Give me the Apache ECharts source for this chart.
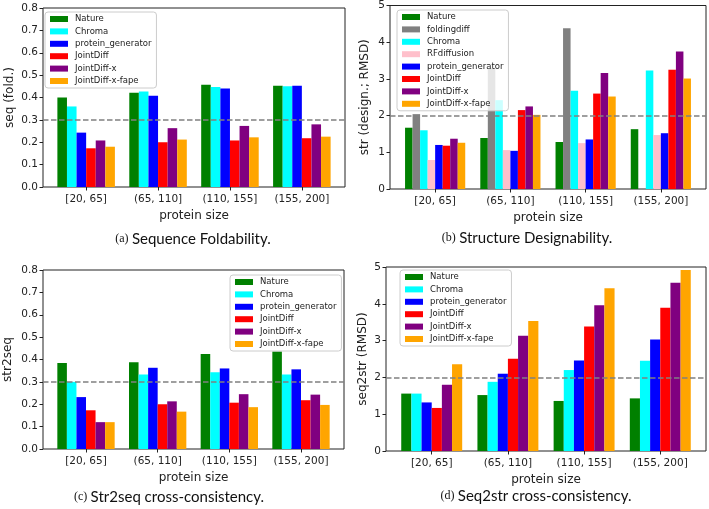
<!DOCTYPE html>
<html>
<head>
<meta charset="utf-8">
<script src="https://cdn.jsdelivr.net/npm/echarts@6/dist/echarts.min.js"></script>
<style>
html,body{margin:0;padding:0;background:#fff;}
#chart{width:709px;height:509px;}
</style>
</head>
<body>
<div id="chart"></div>
<script>
// ---- categories / tick labels ----
const categories = ['[20, 65]', '(65, 110]', '(110, 155]', '(155, 200]'];
const xName = 'protein size';

// ---- (a) Sequence Foldability: seq (fold.) ----
const aNature   = [0.400, 0.421, 0.457, 0.453];
const aChroma   = [0.360, 0.427, 0.447, 0.450];
const aPG       = [0.243, 0.408, 0.440, 0.453];
const aJD       = [0.173, 0.200, 0.208, 0.218];
const aJDx      = [0.208, 0.263, 0.273, 0.280];
const aJDxFape  = [0.180, 0.212, 0.222, 0.225];

// ---- (b) Structure Designability: str (design.; RMSD) ----
const bNature   = [1.67, 1.39, 1.28, 1.63];
const bFolding  = [2.04, 3.30, 4.38, null];
const bChroma   = [1.60, 2.42, 2.68, 3.23];
const bRF       = [0.79, 1.06, 1.25, 1.47];
const bPG       = [1.20, 1.04, 1.35, 1.52];
const bJD       = [1.18, 2.15, 2.60, 3.25];
const bJDx      = [1.37, 2.25, 3.16, 3.75];
const bJDxFape  = [1.26, 2.02, 2.52, 3.01];

// ---- (c) Str2seq cross-consistency ----
const cNature   = [0.384, 0.388, 0.425, 0.436];
const cChroma   = [0.300, 0.333, 0.343, 0.333];
const cPG       = [0.232, 0.363, 0.360, 0.356];
const cJD       = [0.173, 0.200, 0.207, 0.218];
const cJDx      = [0.120, 0.213, 0.245, 0.243];
const cJDxFape  = [0.120, 0.167, 0.187, 0.197];

// ---- (d) Seq2str cross-consistency: seq2str (RMSD) ----
const dNature   = [1.56, 1.52, 1.36, 1.43];
const dChroma   = [1.56, 1.88, 2.20, 2.45];
const dPG       = [1.32, 2.10, 2.46, 3.03];
const dJD       = [1.17, 2.51, 3.38, 3.89];
const dJDx      = [1.80, 3.13, 3.96, 4.57];
const dJDxFape  = [2.36, 3.53, 4.42, 4.92];

const thresholdSeq = 0.3;
const thresholdStr = 2.0;

const colors = {
  'Nature': '#008000',
  'foldingdiff': '#808080',
  'Chroma': '#00ffff',
  'RFdiffusion': '#ffc0cb',
  'protein_generator': '#0000ff',
  'JointDiff': '#ff0000',
  'JointDiff-x': '#800080',
  'JointDiff-x-fape': '#ffa500'
};

const panels = [
  {
    grid: {left: 43, top: 8, width: 302, height: 179},
    yName: 'seq (fold.)', yNameGap: 27, ymax: 0.8, yint: 0.1, dec: 1, thr: thresholdSeq,
    series: [['Nature', aNature], ['Chroma', aChroma], ['protein_generator', aPG],
             ['JointDiff', aJD], ['JointDiff-x', aJDx], ['JointDiff-x-fape', aJDxFape]],
    legend: {left: 45, top: 12},
    caption: {x: 193, y: 239, tag: '(a)', text: 'Sequence Foldability.'}
  },
  {
    grid: {left: 390, top: 5, width: 316, height: 184},
    yName: 'str (design.; RMSD)', yNameGap: 19, ymax: 5, yint: 1, dec: 0, thr: thresholdStr,
    series: [['Nature', bNature], ['foldingdiff', bFolding], ['Chroma', bChroma], ['RFdiffusion', bRF],
             ['protein_generator', bPG], ['JointDiff', bJD], ['JointDiff-x', bJDx], ['JointDiff-x-fape', bJDxFape]],
    legend: {left: 397, top: 10},
    caption: {x: 527, y: 238, tag: '(b)', text: 'Structure Designability.'}
  },
  {
    grid: {left: 43, top: 270, width: 301, height: 179},
    yName: 'str2seq', yNameGap: 29, ymax: 0.8, yint: 0.1, dec: 1, thr: thresholdSeq,
    series: [['Nature', cNature], ['Chroma', cChroma], ['protein_generator', cPG],
             ['JointDiff', cJD], ['JointDiff-x', cJDx], ['JointDiff-x-fape', cJDxFape]],
    legend: {left: 230, top: 275},
    caption: {x: 169, y: 497, tag: '(c)', text: 'Str2seq cross-consistency.'}
  },
  {
    grid: {left: 386, top: 267, width: 320, height: 184},
    yName: 'seq2str (RMSD)', yNameGap: 17, ymax: 5, yint: 1, dec: 0, thr: thresholdStr,
    series: [['Nature', dNature], ['Chroma', dChroma], ['protein_generator', dPG],
             ['JointDiff', dJD], ['JointDiff-x', dJDx], ['JointDiff-x-fape', dJDxFape]],
    legend: {left: 400, top: 270},
    caption: {x: 536, y: 496, tag: '(d)', text: 'Seq2str cross-consistency.'}
  }
];

const textColor = '#222';
const grids = [], xAxes = [], yAxes = [], series = [], legends = [], graphics = [];

panels.forEach((p, pi) => {
  grids.push(Object.assign({show: true, borderColor: '#222', borderWidth: 1, backgroundColor: 'transparent'}, p.grid));
  xAxes.push({
    type: 'value', gridIndex: pi, min: -0.6, max: 3.6, position: 'bottom',
    name: xName, nameLocation: 'middle', nameGap: 23,
    nameTextStyle: {fontFamily: 'DejaVu Sans', fontSize: 12, color: textColor},
    axisLine: {show: false, onZero: false},
    axisTick: {show: true, length: 3.5, customValues: [0, 1, 2, 3], lineStyle: {color: '#222'}},
    axisLabel: {show: true, customValues: [0, 1, 2, 3], margin: 7,
      fontFamily: 'DejaVu Sans', fontSize: 10.5, color: textColor,
      formatter: v => categories[Math.round(v)]},
    splitLine: {show: false}
  });
  yAxes.push({
    type: 'value', gridIndex: pi, min: 0, max: p.ymax, interval: p.yint, position: 'left',
    name: p.yName, nameLocation: 'middle', nameGap: p.yNameGap,
    nameTextStyle: {fontFamily: 'DejaVu Sans', fontSize: 12, color: textColor},
    axisLine: {show: false, onZero: false},
    axisTick: {show: true, length: 3.5, lineStyle: {color: '#222'}},
    axisLabel: {margin: 5, fontFamily: 'DejaVu Sans', fontSize: 10.5, color: textColor,
      formatter: v => v.toFixed(p.dec)},
    splitLine: {show: false}
  });
  const n = p.series.length;
  const unit = p.grid.width / 4.2;
  const bw = 0.8 * unit / n;
  p.series.forEach(([name, vals], si) => {
    const s = {
      type: 'bar', name: name, xAxisIndex: pi, yAxisIndex: pi,
      barWidth: bw, barGap: '0%',
      itemStyle: {color: colors[name]},
      data: vals.map((v, i) => [i, v === null ? '-' : v]),
      animation: false
    };
    if (si === n - 1) {
      s.markLine = {
        silent: true, symbol: 'none', animation: false, z: 10,
        label: {show: false},
        lineStyle: {color: '#808080', type: [5.5, 2.5], width: 1.5},
        data: [{yAxis: p.thr}]
      };
    }
    series.push(s);
  });
  legends.push({
    orient: 'vertical', left: p.legend.left, top: p.legend.top,
    data: p.series.map(s => s[0]),
    icon: 'rect', itemWidth: 18, itemHeight: 6, itemGap: 2.4,
    padding: [2, 5, 2, 5],
    backgroundColor: 'rgba(255,255,255,0.8)', borderColor: '#cccccc', borderWidth: 1, borderRadius: 3,
    textStyle: {fontFamily: 'DejaVu Sans', fontSize: 8.5, color: textColor, lineHeight: 10, padding: [0, 0, 0, 2]},
    selectedMode: false
  });
  graphics.push({
    type: 'text', x: p.caption.x, y: p.caption.y,
    style: {
      text: '{s|' + p.caption.tag + '} {t|' + p.caption.text + '}',
      align: 'center', verticalAlign: 'middle',
      rich: {
        s: {fontFamily: 'Liberation Serif', fontSize: 12, fill: '#111'},
        t: {fontFamily: 'Lato', fontSize: 15, fill: '#111'}
      }
    }
  });
});

const chart = echarts.init(document.getElementById('chart'), null, {renderer: 'canvas'});
chart.setOption({
  animation: false,
  backgroundColor: '#fff',
  grid: grids, xAxis: xAxes, yAxis: yAxes, series: series, legend: legends, graphic: graphics
});
</script>
</body>
</html>
